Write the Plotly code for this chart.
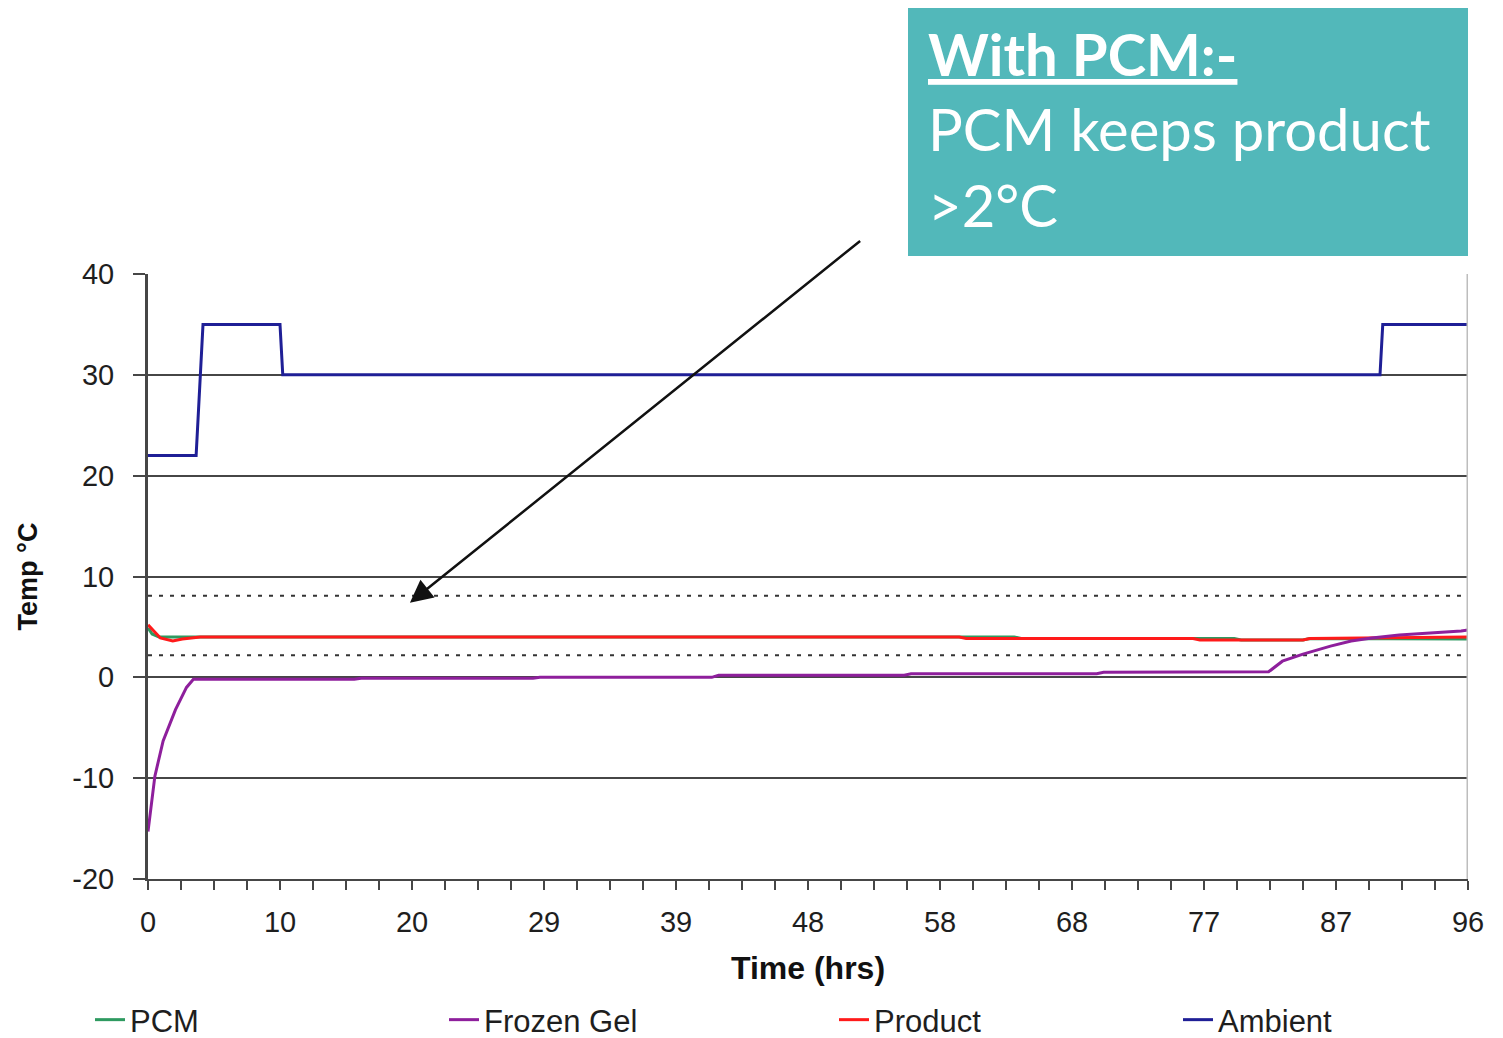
import plotly.graph_objects as go

# ---------------- data ----------------
x_tick_vals = [i * 2.4 for i in range(41)]
x_label_text = ["0", "10", "20", "29", "39", "48", "58", "68", "77", "87", "96"]

y_ticks = [-20, -10, 0, 10, 20, 30, 40]
y_tick_text = ["-20", "-10", "0", "10", "20", "30", "40"]

pcm_t = [0, 0.3, 0.8, 1.5, 3.8, 63, 63.5, 79, 79.5, 84, 84.5, 96]
pcm = [4.9, 4.3, 4.0, 4.0, 4.0, 4.0, 3.85, 3.85, 3.7, 3.7, 3.85, 3.8]

gel_t = [0, 0.5, 1.1, 2.0, 2.8, 3.3, 15, 15.5, 28, 28.5, 41, 41.5, 55, 55.5,
         69, 69.5, 81.5, 82.5, 84, 86, 87.5, 89, 91, 93.5, 95.5, 96]
gel = [-15.3, -9.8, -6.3, -3.2, -1.0, -0.2, -0.2, -0.1, -0.1, 0.0, 0.0, 0.2, 0.2, 0.35,
       0.35, 0.5, 0.55, 1.6, 2.3, 3.1, 3.6, 3.9, 4.2, 4.4, 4.6, 4.7]

product_t = [0, 0.4, 0.9, 1.8, 2.5, 3.8, 59, 59.5, 76, 76.5, 84, 84.5, 96]
product = [5.2, 4.6, 3.9, 3.6, 3.8, 4.0, 4.0, 3.85, 3.85, 3.7, 3.7, 3.85, 4.0]

ambient_t = [0, 3.5, 4.0, 9.6, 9.8, 89.6, 89.8, 96]
ambient = [22, 22, 35, 35, 30, 30, 35, 35]

limit_t = [0, 96]
upper_limit = [8.1, 8.1]
lower_limit = [2.2, 2.2]

FONT = "Liberation Sans, Arial, sans-serif"
AX = "#464646"
TXT = "#1e1e1e"

ML, MT = 140, 266
PW, PH = 1320, 606
W, H = 1503, 1050


def px_x(fx):
    return (fx - ML) / PW


def px_y(fy):
    return (MT + PH - fy) / PH


fig = go.Figure()

for lv in (upper_limit, lower_limit):
    fig.add_trace(go.Scatter(x=limit_t, y=lv, mode="lines", showlegend=False,
                             line=dict(color="#333333", width=2, dash="4px,7px"),
                             hoverinfo="skip"))

fig.add_trace(go.Scatter(x=pcm_t, y=pcm, mode="lines", name="PCM", legend="legend",
                         line=dict(color="#2e9a60", width=3)))
fig.add_trace(go.Scatter(x=product_t, y=product, mode="lines", name="Product", legend="legend3",
                         line=dict(color="#ff1a1a", width=3)))
fig.add_trace(go.Scatter(x=gel_t, y=gel, mode="lines", name="Frozen Gel", legend="legend2",
                         line=dict(color="#8e1f9c", width=3)))
fig.add_trace(go.Scatter(x=ambient_t, y=ambient, mode="lines", name="Ambient", legend="legend4",
                         line=dict(color="#1f1f96", width=3)))

ticktext = [x_label_text[i // 4] if i % 4 == 0 else "" for i in range(41)]

leg_font = dict(size=31, family=FONT, color=TXT)
leg_y = px_y(1012)


def leg(fx):
    return dict(orientation="h", x=px_x(fx), y=leg_y, xanchor="left", yanchor="middle",
                font=leg_font, bgcolor="rgba(0,0,0,0)")


fig.update_layout(
    width=W, height=H,
    margin=dict(l=ML, r=W - ML - PW, t=MT, b=H - MT - PH),
    paper_bgcolor="white", plot_bgcolor="white",
    font=dict(family=FONT, color=TXT),
    showlegend=True,
    legend=leg(82), legend2=leg(436), legend3=leg(826), legend4=leg(1170),
    xaxis=dict(range=[0, 96], tickmode="array", tickvals=x_tick_vals, ticktext=ticktext,
               ticks="outside", ticklen=9, tickwidth=2, tickcolor=AX,
               showline=True, linecolor=AX, linewidth=2, showgrid=False, zeroline=False,
               tickfont=dict(size=29, family=FONT, color=TXT),
               ticklabelstandoff=7,
               title=dict(text="<b>Time (hrs)</b>", font=dict(size=32, family=FONT, color="#111111"),
                          standoff=20)),
    yaxis=dict(range=[-20, 40], tickmode="array", tickvals=y_ticks, ticktext=y_tick_text,
               ticks="outside", ticklen=12, tickwidth=2, tickcolor=AX,
               showline=True, linecolor=AX, linewidth=3,
               showgrid=True, gridcolor=AX, gridwidth=2.2, zeroline=False,
               tickfont=dict(size=29, family=FONT, color=TXT),
               ticklabelstandoff=13,
               title=dict(text="<b>Temp °C</b>", font=dict(size=27, family=FONT, color="#111111"),
                          standoff=27)),
)

# light right border of the plot
fig.add_shape(type="line", xref="x", yref="y", x0=96, x1=96, y0=-20, y1=40,
              line=dict(color="#bdbdbd", width=3), layer="above")

# teal callout box
fig.add_shape(type="rect", xref="paper", yref="paper",
              x0=px_x(900), x1=1.0, y0=px_y(248), y1=px_y(-4),
              fillcolor="#52b8ba", line=dict(width=0), layer="above")
fig.add_annotation(xref="paper", yref="paper", x=px_x(918), y=px_y(9),
                   xanchor="left", yanchor="top", align="left", showarrow=False,
                   text="<b><u>With PCM:-</u></b><br>PCM keeps product<br>&gt;2°C",
                   font=dict(family="Lato, Open Sans, sans-serif", size=58, color="white"))

# arrow pointing at the 8 °C limit
fig.add_annotation(x=19.05, y=7.4, xref="x", yref="y", ax=51.9, ay=43.4,
                   axref="x", ayref="y", text="", showarrow=True,
                   arrowhead=2, arrowsize=1.8, arrowwidth=2.5, arrowcolor="#111111")

fig.write_html("out.html")
